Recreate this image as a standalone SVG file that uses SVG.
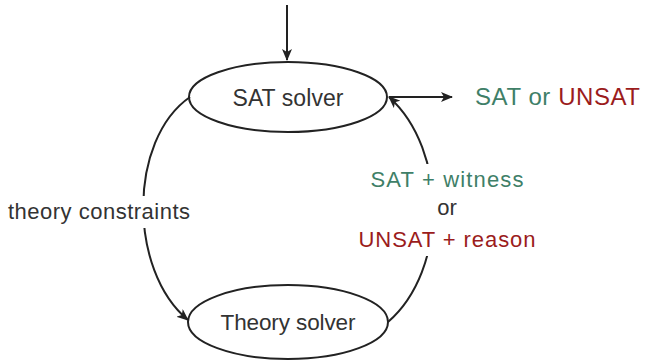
<svg xmlns="http://www.w3.org/2000/svg" width="648" height="361" viewBox="0 0 648 361">
<defs>
<marker id="ah" viewBox="0 0 12 10" refX="11" refY="5" markerWidth="12" markerHeight="10" markerUnits="userSpaceOnUse" orient="auto">
<path d="M0,0 L12,5 L0,10 L3,5 Z" fill="#222"/>
</marker>
</defs>
<style>
.n{fill:none;stroke:#222;stroke-width:2}
.c{fill:none;stroke:#222;stroke-width:2;marker-end:url(#ah)}
text{font-family:"Liberation Sans","Open Sans",sans-serif;fill:#333;text-anchor:middle}
.g{fill:#3f7f68}
.r{fill:#9b1c1c}
</style>
<g id="connectors">
<path class="c" d="M287,5 L287,60"/>
<path class="c" d="M389,97 L452,97"/>
<path class="c" d="M190,97 C128,140 128,270 188,320"/>
<path class="c" d="M388,322 C448,270 448,150 389,97"/>
</g>
<g id="sat-solver">
<ellipse class="n" cx="288" cy="97" rx="99" ry="35" fill="#fff"/>
<text x="288" y="106" font-size="23" textLength="111">SAT solver</text>
</g>
<g id="theory-solver">
<ellipse class="n" cx="288" cy="322" rx="100" ry="37" fill="#fff"/>
<text x="288" y="330" font-size="22.5" textLength="135">Theory solver</text>
</g>
<g id="result">
<text x="475" y="105" font-size="24" textLength="165" style="text-anchor:start"><tspan class="g">SAT</tspan> <tspan class="g">or</tspan> <tspan class="r">UNSAT</tspan></text>
</g>
<g id="label-constraints">
<rect x="5" y="196" width="190" height="32" fill="#fff"/>
<text x="99" y="219" font-size="22" textLength="182">theory constraints</text>
</g>
<g id="label-feedback">
<rect x="352" y="164" width="190" height="92" fill="#fff"/>
<text x="447" y="187" font-size="22" textLength="153" class="g">SAT + witness</text>
<text x="447" y="215" font-size="22">or</text>
<text x="447" y="247" font-size="22" textLength="177" class="r">UNSAT + reason</text>
</g>
</svg>
